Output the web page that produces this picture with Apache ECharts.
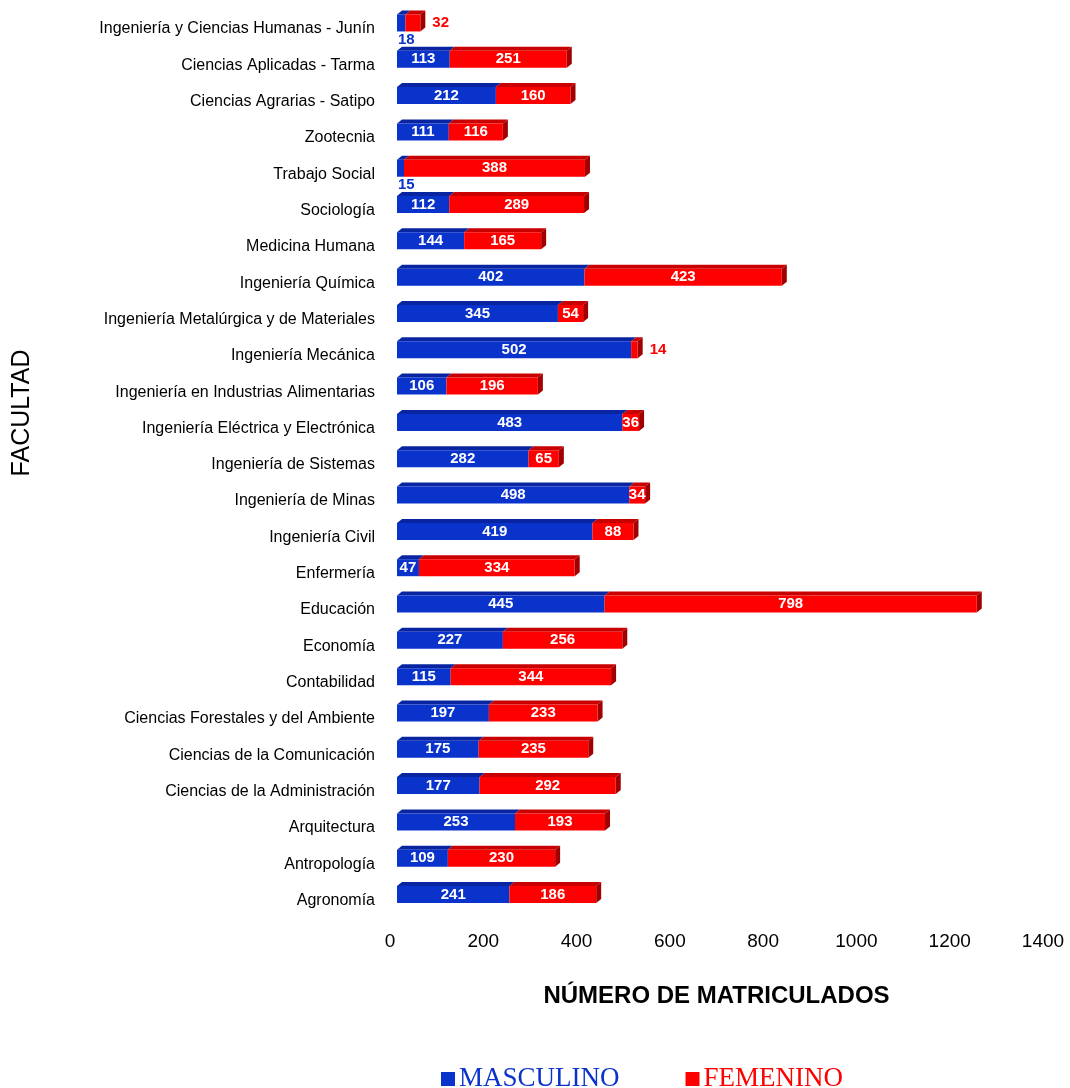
<!DOCTYPE html>
<html><head><meta charset="utf-8">
<script src="https://cdn.jsdelivr.net/npm/echarts@6/dist/echarts.min.js"></script>
<style>html,body{margin:0;padding:0;background:#fff}#c{width:1070px;height:1088px}</style>
</head><body><div id="c"></div>
<script>
const categories = ["Agronomía","Antropología","Arquitectura","Ciencias de la Administración","Ciencias de la Comunicación","Ciencias Forestales y del Ambiente","Contabilidad","Economía","Educación","Enfermería","Ingeniería Civil","Ingeniería de Minas","Ingeniería de Sistemas","Ingeniería Eléctrica y Electrónica","Ingeniería en Industrias Alimentarias","Ingeniería Mecánica","Ingeniería Metalúrgica y de Materiales","Ingeniería Química","Medicina Humana","Sociología","Trabajo Social","Zootecnia","Ciencias Agrarias - Satipo","Ciencias Aplicadas - Tarma","Ingeniería y Ciencias Humanas - Junín"];
const masculino = [241,109,253,177,175,197,115,227,445,47,419,498,282,483,106,502,345,402,144,112,15,111,212,113,18];
const femenino = [186,230,193,292,235,233,344,256,798,334,88,34,65,36,196,14,54,423,165,289,388,116,160,251,32];
const xTicks = {min:0, max:1400, interval:200};

const BLUE = '#0a33cc', RED = '#ff0000';
const BW = 17, DX = 5, DY = 4;

const mascData = masculino.map(v => v < 20 ? {value:v, label:{position:['0%','100%'], align:'left', verticalAlign:'top', offset:[1,1], color:'#0a33cc'}} : v);
const femData = femenino.map(v => v < 33 ? {value:v, label:{position:'right', distance:12, color:'#ff0000'}} : v);

const chart = echarts.init(document.getElementById('c'), null, {renderer:'canvas'});
const lbl = {show:true, position:'inside', color:'#fff', fontWeight:'bold', fontSize:15, fontFamily:'Arial, Liberation Sans, sans-serif'};

chart.setOption({
  animation:false,
  backgroundColor:'#fff',
  grid:{left:397, right:20, top:4.8, bottom:175.3},
  legend:{
    left:436, top:1059, icon:'rect', itemWidth:14, itemHeight:14, itemGap:66,
    textStyle:{fontFamily:'Liberation Serif, Times New Roman, serif', fontSize:27, lineHeight:30, padding:[0,0,0,-1]},
    data:[{name:'MASCULINO', textStyle:{color:BLUE}},{name:'FEMENINO', textStyle:{color:RED}}]
  },
  xAxis:{
    type:'value', min:xTicks.min, max:xTicks.max, interval:xTicks.interval,
    axisLine:{show:false}, axisTick:{show:false}, splitLine:{show:false},
    axisLabel:{color:'#000', fontSize:19, fontFamily:'Arial, Liberation Sans, sans-serif', margin:20, padding:[0,14,0,0], formatter:v => String(v)},
    name:'NÚMERO DE MATRICULADOS', nameLocation:'middle', nameGap:72,
    nameTextStyle:{color:'#000', fontSize:24, fontWeight:'bold', fontFamily:'Arial, Liberation Sans, sans-serif', padding:[0,14,0,0]}
  },
  yAxis:{
    type:'category', data:categories,
    axisLine:{show:false}, axisTick:{show:false},
    axisLabel:{color:'#000', fontSize:16, fontFamily:'Arial, Liberation Sans, sans-serif', margin:22, verticalAlign:'top', lineHeight:12}
  },
  graphic:[{type:'text', x:22, y:413, rotation:Math.PI/2,
    style:{text:'FACULTAD', fill:'#000', font:'25px Arial, Liberation Sans, sans-serif', align:'center', verticalAlign:'middle'}}],
  series:[
    {name:'MASCULINO', type:'bar', stack:'t', barWidth:BW, data:mascData, itemStyle:{color:BLUE}, label:lbl, z:3},
    {name:'FEMENINO', type:'bar', stack:'t', barWidth:BW, data:femData, itemStyle:{color:RED}, label:lbl, z:3},
    {name:'3d', type:'custom', z:2, silent:true,
     data: categories.map((c,i) => [i, masculino[i], femenino[i]]),
     encode:{x:[1,2], y:0},
     renderItem:function(params, api){
       const i = api.value(0), m = api.value(1), f = api.value(2);
       const p0 = api.coord([0, i]), pm = api.coord([m, i]), pe = api.coord([m+f, i]);
       const yT = p0[1] - BW/2, yB = p0[1] + BW/2;
       const face = (a, b, col) => ({type:'polygon', shape:{points:[[a,yT],[a+DX,yT-DY],[b+DX,yT-DY],[b,yT]]}, style:{fill:col}});
       return {type:'group', children:[
         face(p0[0], pm[0], '#0824a0'),
         face(pm[0], pe[0], '#c80000'),
         {type:'polygon', shape:{points:[[pe[0],yT],[pe[0]+DX,yT-DY],[pe[0]+DX,yB-DY],[pe[0],yB]]}, style:{fill:'#a00000'}}
       ]};
     }}
  ]
});
</script></body></html>
